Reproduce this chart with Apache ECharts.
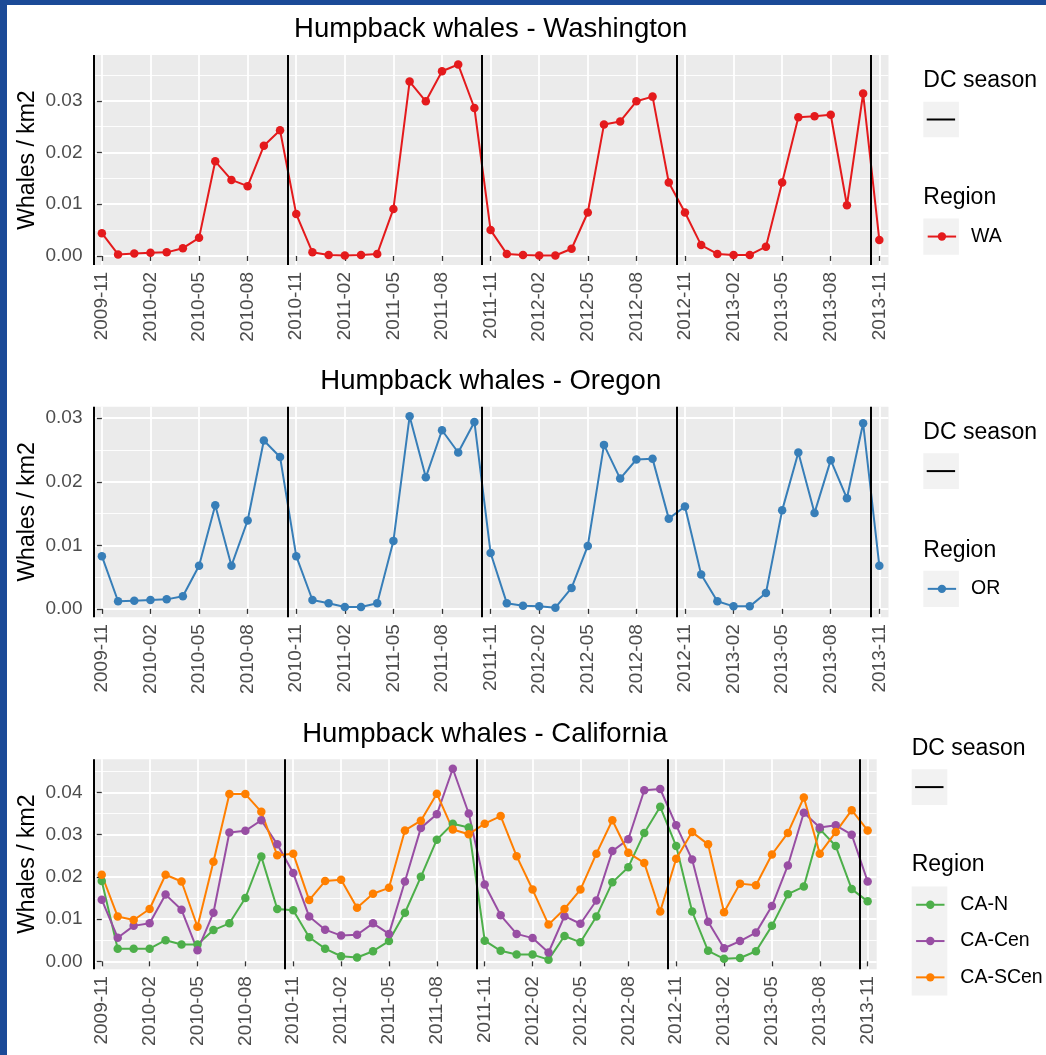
<!DOCTYPE html>
<html>
<head>
<meta charset="utf-8">
<title>Humpback whales</title>
<script src="https://cdn.jsdelivr.net/npm/echarts@6/dist/echarts.min.js"></script>
<style>
  html, body { margin: 0; padding: 0; background: #ffffff; }
  #chart { width: 1046px; height: 1055px; }
</style>
</head>
<body>
<div id="chart"></div>
<script>
// ---- data ---------------------------------------------------------------
const MONTHS = [
  '2009-11','2009-12','2010-01','2010-02','2010-03','2010-04','2010-05','2010-06','2010-07','2010-08','2010-09','2010-10',
  '2010-11','2010-12','2011-01','2011-02','2011-03','2011-04','2011-05','2011-06','2011-07','2011-08','2011-09','2011-10',
  '2011-11','2011-12','2012-01','2012-02','2012-03','2012-04','2012-05','2012-06','2012-07','2012-08','2012-09','2012-10',
  '2012-11','2012-12','2013-01','2013-02','2013-03','2013-04','2013-05','2013-06','2013-07','2013-08','2013-09','2013-10',
  '2013-11'
];

const WA = [
  0.0044,0.0003,0.0005,0.0006,0.0007,0.0015,0.0035,0.0183,0.0147,0.0135,0.0213,0.0243,
  0.0081,0.0007,0.0002,0.0001,0.0002,0.0004,0.0091,0.0337,0.0299,0.0357,0.0370,0.0286,
  0.0050,0.0004,0.0002,0.0001,0.0001,0.0014,0.0084,0.0254,0.0260,0.0299,0.0308,0.0142,
  0.0084,0.0021,0.0004,0.0002,0.0002,0.0018,0.0142,0.0268,0.0270,0.0273,0.0098,0.0314,
  0.0031
];

const OR = [
  0.0083,0.0012,0.0013,0.0014,0.0015,0.0020,0.0068,0.0163,0.0068,0.0139,0.0265,0.0239,
  0.0083,0.0014,0.0009,0.0003,0.0003,0.0009,0.0107,0.0303,0.0207,0.0281,0.0246,0.0294,
  0.0088,0.0009,0.0005,0.0004,0.0002,0.0033,0.0099,0.0258,0.0205,0.0235,0.0236,0.0142,
  0.0161,0.0054,0.0012,0.0004,0.0004,0.0025,0.0155,0.0246,0.0151,0.0234,0.0174,0.0292,
  0.0068
];

const CA_N = [
  0.0190,0.0030,0.0030,0.0030,0.0050,0.0040,0.0040,0.0074,0.0090,0.0150,0.0248,0.0124,
  0.0121,0.0057,0.0030,0.0012,0.0009,0.0024,0.0048,0.0115,0.0200,0.0288,0.0326,0.0317,
  0.0049,0.0025,0.0016,0.0016,0.0004,0.0060,0.0045,0.0106,0.0187,0.0223,0.0304,0.0366,
  0.0273,0.0118,0.0025,0.0006,0.0008,0.0024,0.0084,0.0159,0.0177,0.0313,0.0273,0.0171,
  0.0142
];

const CA_CEN = [
  0.0146,0.0056,0.0084,0.0090,0.0158,0.0122,0.0026,0.0115,0.0305,0.0309,0.0334,0.0277,
  0.0209,0.0106,0.0075,0.0061,0.0063,0.0090,0.0065,0.0189,0.0316,0.0348,0.0456,0.0350,
  0.0182,0.0109,0.0065,0.0055,0.0021,0.0107,0.0089,0.0144,0.0261,0.0289,0.0405,0.0408,
  0.0322,0.0241,0.0094,0.0031,0.0048,0.0068,0.0131,0.0227,0.0352,0.0317,0.0322,0.0300,
  0.0189
];

const CA_SCEN = [
  0.0205,0.0106,0.0098,0.0124,0.0205,0.0189,0.0082,0.0236,0.0396,0.0396,0.0354,0.0251,
  0.0255,0.0145,0.0190,0.0193,0.0127,0.0160,0.0174,0.0310,0.0333,0.0397,0.0312,0.0301,
  0.0326,0.0344,0.0249,0.0170,0.0087,0.0124,0.0170,0.0255,0.0334,0.0257,0.0233,0.0118,
  0.0243,0.0306,0.0277,0.0116,0.0184,0.0180,0.0253,0.0304,0.0388,0.0255,0.0306,0.0358,
  0.0310
];

const TICK_LABELS = [
  '2009-11','2010-02','2010-05','2010-08','2010-11','2011-02','2011-05','2011-08','2011-11',
  '2012-02','2012-05','2012-08','2012-11','2013-02','2013-05','2013-08','2013-11'
];

// start of each DC season (vertical reference lines)
const DC_SEASON_STARTS = ['2009-10-16','2010-10-16','2011-10-16','2012-10-16','2013-10-16'];
const X_LIMITS = ['2009-10-15', '2013-11-18'];

const Y_BREAKS_NORTH = [0, 0.01, 0.02, 0.03];
const Y_BREAKS_CA = [0, 0.01, 0.02, 0.03, 0.04];

// ---- helpers ------------------------------------------------------------
// fractional month position counted from 2009-11-01
function monthIndex(s) {
  const p = s.split('-').map(Number);
  const y = p[0], m = p[1], d = p[2] || 1;
  const daysInMonth = new Date(y, m, 0).getDate();
  return (y - 2009) * 12 + (m - 11) + (d - 1) / daysInMonth;
}
const tickLabelByPos = new Map(TICK_LABELS.map(l => [monthIndex(l), l]));
const X_TICKS = TICK_LABELS.map(monthIndex);
const X_MIN = monthIndex(X_LIMITS[0]);
const X_MAX = monthIndex(X_LIMITS[1]);

function toPoints(values) {
  return values.map((v, i) => [monthIndex(MONTHS[i]), v]);
}
// ggplot-style 5% expansion of the data range
function expandedRange(arrays) {
  const all = [].concat(...arrays);
  const lo = Math.min(...all), hi = Math.max(...all);
  const pad = (hi - lo) * 0.05;
  return [lo - pad, hi + pad];
}

// ---- layout ---------------------------------------------------------------
const FONT = "'Liberation Sans', Arial, Helvetica, sans-serif";
const PANELS = [
  {
    title: 'Humpback whales - Washington',
    series: [['WA', WA, '#E41A1C']],
    breaks: Y_BREAKS_NORTH,
    grid: { left: 93, top: 55, width: 795.5, height: 210 },
    titleTop: 15.5,
    leg: { x: 923.3, dcTitleY: 80.5, dcBoxY: 101.7, regionTitleY: 197.5, regionBoxY: 218.4, textX: 970 }
  },
  {
    title: 'Humpback whales - Oregon',
    series: [['OR', OR, '#377EB8']],
    breaks: Y_BREAKS_NORTH,
    grid: { left: 93, top: 406.7, width: 795.5, height: 210.5 },
    titleTop: 368,
    leg: { x: 923.3, dcTitleY: 432.7, dcBoxY: 453.3, regionTitleY: 551, regionBoxY: 570.7, textX: 970 }
  },
  {
    title: 'Humpback whales - California',
    series: [['CA-N', CA_N, '#4DAF4A'], ['CA-Cen', CA_CEN, '#984EA3'], ['CA-SCen', CA_SCEN, '#FF7F00']],
    breaks: Y_BREAKS_CA,
    grid: { left: 93, top: 759.2, width: 783.7, height: 210 },
    titleTop: 720.5,
    leg: { x: 911.7, dcTitleY: 748.5, dcBoxY: 769.3, regionTitleY: 865, regionBoxY: 886.6, textX: 959.3 }
  }
];

const KEY = 35.6;        // legend key box size
const ITEM_STEP = 36.3;  // legend row height

const option = {
  animation: false,
  textStyle: { fontFamily: FONT },
  title: [],
  grid: [],
  xAxis: [],
  yAxis: [],
  legend: [],
  series: [],
  graphic: []
};

// page frame
option.graphic.push(
  { type: 'rect', shape: { x: 0, y: 0, width: 7, height: 1055 }, style: { fill: '#1B4A97' }, silent: true },
  { type: 'rect', shape: { x: 0, y: 0, width: 1046, height: 5 }, style: { fill: '#1B4A97' }, silent: true }
);

PANELS.forEach((p, i) => {
  const yr = expandedRange(p.series.map(s => s[1]));
  const minors = p.breaks.map(b => +(b + 0.005).toFixed(4));

  option.title.push({
    text: p.title,
    left: p.grid.left + p.grid.width / 2,
    top: p.titleTop,
    textAlign: 'center',
    padding: 0,
    textStyle: { fontSize: 27.5, lineHeight: 27.5, fontWeight: 'normal', color: '#000000', fontFamily: FONT }
  });

  option.grid.push(Object.assign({
    show: true,
    backgroundColor: '#EBEBEB',
    borderWidth: 0,
    containLabel: false,
    outerBoundsMode: 'none'
  }, p.grid));

  // major x axis
  option.xAxis.push({
    type: 'value', gridIndex: i, min: X_MIN, max: X_MAX,
    axisLine: { show: false },
    axisTick: { show: true, length: 5, customValues: X_TICKS, lineStyle: { color: '#333333', width: 1.3 } },
    axisLabel: {
      customValues: X_TICKS, rotate: 90, margin: 7, fontSize: 19, color: '#4D4D4D', fontFamily: FONT,
      formatter: v => tickLabelByPos.get(v) || ''
    },
    splitLine: { show: true, lineStyle: { color: '#FFFFFF', width: 1.8 } }
  });

  // major y axis
  option.yAxis.push({
    type: 'value', gridIndex: i, min: yr[0], max: yr[1],
    name: 'Whales / km2', nameLocation: 'middle', nameRotate: 90, nameGap: 54,
    nameMoveOverlap: false,
    nameTextStyle: { fontSize: 23, color: '#000000', fontFamily: FONT },
    axisLine: { show: false },
    axisTick: { show: true, length: 5, customValues: p.breaks, lineStyle: { color: '#333333', width: 1.3 } },
    axisLabel: {
      customValues: p.breaks, margin: 10.5, fontSize: 19, color: '#4D4D4D', fontFamily: FONT,
      formatter: v => v.toFixed(2)
    },
    splitLine: { show: true, lineStyle: { color: '#FFFFFF', width: 1.8 } }
  });
  // minor y gridlines
  option.yAxis.push({
    type: 'value', gridIndex: i, min: yr[0], max: yr[1], position: 'left',
    axisLine: { show: false },
    axisTick: { show: false, customValues: minors },
    axisLabel: { show: false, customValues: minors },
    splitLine: { show: true, lineStyle: { color: '#FFFFFF', width: 0.9 } }
  });

  const yIdx = i * 2;

  // DC season reference lines
  option.series.push({
    type: 'line', name: 'DC season ' + (i + 1),
    xAxisIndex: i, yAxisIndex: yIdx,
    data: [], silent: true, clip: false,
    markLine: {
      silent: true, symbol: ['none', 'none'], animation: false,
      label: { show: false },
      emphasis: { disabled: true },
      lineStyle: { color: '#000000', width: 2, type: 'solid' },
      data: DC_SEASON_STARTS.map(d => ({ xAxis: monthIndex(d) }))
    }
  });

  p.series.forEach(s => {
    option.series.push({
      type: 'line', name: s[0],
      xAxisIndex: i, yAxisIndex: yIdx,
      data: toPoints(s[1]),
      symbol: 'circle', symbolSize: 8.5, showSymbol: true,
      lineStyle: { width: 2, color: s[2] },
      itemStyle: { color: s[2] },
      emphasis: { disabled: true },
      z: 3
    });
  });

  // legends: titles and key backgrounds
  const L = p.leg;
  option.graphic.push(
    { type: 'text', x: L.x, y: L.dcTitleY, silent: true,
      style: { text: 'DC season', fontSize: 23, fill: '#000000', fontFamily: FONT, textAlign: 'left', textVerticalAlign: 'middle' } },
    { type: 'rect', shape: { x: L.x, y: L.dcBoxY, width: KEY, height: KEY }, style: { fill: '#F2F2F2' }, silent: true },
    { type: 'line', shape: { x1: L.x + 3.4, y1: L.dcBoxY + KEY / 2, x2: L.x + 31.8, y2: L.dcBoxY + KEY / 2 },
      style: { stroke: '#000000', lineWidth: 2 }, silent: true },
    { type: 'text', x: L.x, y: L.regionTitleY, silent: true,
      style: { text: 'Region', fontSize: 23, fill: '#000000', fontFamily: FONT, textAlign: 'left', textVerticalAlign: 'middle' } },
    { type: 'rect', shape: { x: L.x, y: L.regionBoxY, width: KEY, height: ITEM_STEP * p.series.length },
      style: { fill: '#F2F2F2' }, silent: true }
  );

  option.legend.push({
    data: p.series.map(s => s[0]),
    orient: 'vertical',
    left: L.x + 3.4,
    top: L.regionBoxY,
    padding: 0,
    itemGap: 0,
    itemWidth: 28.4,
    itemHeight: 10.5,
    selectedMode: false,
    textStyle: {
      fontSize: 19.5, color: '#000000', fontFamily: FONT,
      lineHeight: ITEM_STEP,
      padding: [0, 0, 0, L.textX - (L.x + 3.4 + 28.4 + 5)]
    }
  });
});

const chart = echarts.init(document.getElementById('chart'), null, { renderer: 'canvas' });
chart.setOption(option);
</script>
</body>
</html>
